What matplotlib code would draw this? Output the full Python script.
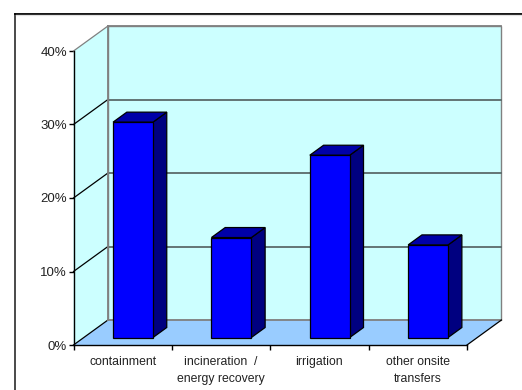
import matplotlib
matplotlib.use('Agg')
import matplotlib.pyplot as plt
from matplotlib.lines import Line2D
from matplotlib.patches import Polygon

plt.rcParams['font.family'] = ['Liberation Sans', 'DejaVu Sans']

categories = ['containment', 'incineration  /\nenergy recovery', 'irrigation', 'other onsite\ntransfers']
shares = [29.3, 13.6, 24.8, 12.6]
y_ticks = [0, 10, 20, 30, 40]

W, H = 522, 390
# oblique offset of the back wall, in category units and percent
DEPTH_X = 0.35
DEPTH_Y = 3.4
BAR_WIDTH = 0.406


def project(x, y, d):
    """Shift a point back into the chart by depth fraction d."""
    return (x + d * DEPTH_X, y + d * DEPTH_Y)


def box(ax, x0, x1, top):
    near, far = 0.3, 0.7
    base = 0
    front = [project(x0, base, near), project(x1, base, near),
             project(x1, top, near), project(x0, top, near)]
    side = [project(x1, base, near), project(x1, base, far),
            project(x1, top, far), project(x1, top, near)]
    lid = [project(x0, top, near), project(x1, top, near),
           project(x1, top, far), project(x0, top, far)]
    for pts, col in ((side, '#000080'), (lid, '#0000a8'), (front, '#0000ff')):
        ax.add_patch(Polygon(pts, closed=True, fc=col, ec='black', lw=0.9,
                             joinstyle='miter', zorder=5, clip_on=False))


fig = plt.figure(figsize=(W / 100, H / 100), dpi=100)
fig.patch.set_facecolor('white')

# outer frame only shows on the top and left
fig.add_artist(Line2D([14.8 / W, 14.8 / W], [0, 1 - 13.5 / H], color='#3a3a3a', lw=1.3))
fig.add_artist(Line2D([14.8 / W, 1], [1 - 13.5 / H, 1 - 13.5 / H], color='black', lw=1.3))
fig.add_artist(Line2D([16 / W, 1], [1 - 15.2 / H, 1 - 15.2 / H], color='#e2e2e2', lw=0.9))

ax = fig.add_axes([73.5 / W, 1 - 345 / H, (467 - 73.5) / W, (345 - 51) / H])
ax.set_xlim(0, 4)
ax.set_ylim(0, 40)
ax.patch.set_alpha(0)

# side wall, back wall and floor
wall = '#ccffff'
ax.add_patch(Polygon([project(0, 0, 0), project(0, 0, 1), project(0, 40, 1), project(0, 40, 0)],
                     closed=True, fc=wall, ec='none', zorder=1, clip_on=False))
ax.add_patch(Polygon([project(0, 0, 1), project(4, 0, 1), project(4, 40, 1), project(0, 40, 1)],
                     closed=True, fc=wall, ec='#808080', lw=1.0, zorder=1, clip_on=False))
ax.add_patch(Polygon([project(0, 0, 0), project(4, 0, 0), project(4, 0, 1), project(0, 0, 1)],
                     closed=True, fc='#99ccff', ec='none', zorder=2, clip_on=False))

# gridlines run along the side wall and across the back wall
for t in y_ticks:
    (x1, y1), (x2, y2) = project(0, t, 0), project(0, t, 1)
    edge = '#808080' if t == 40 else 'black'
    ax.plot([x1, x2], [y1, y2], color=edge, lw=0.9, zorder=3, clip_on=False)
    (x3, y3) = project(4, t, 1)
    ax.plot([x2, x3], [y2, y3], color='#808080' if t in (0, 40) else '#5a6a6a', lw=1.3, zorder=3, clip_on=False)

# floor edge and back corner
ax.plot([4, 4 + DEPTH_X], [0, DEPTH_Y], color='black', lw=0.9, zorder=3, clip_on=False)
ax.plot([DEPTH_X, DEPTH_X], [DEPTH_Y, 40 + DEPTH_Y], color='#808080', lw=1.3, zorder=3, clip_on=False)

for i, v in enumerate(shares):
    box(ax, i + 0.5 - BAR_WIDTH / 2, i + 0.5 + BAR_WIDTH / 2, v)

for s in ('top', 'right'):
    ax.spines[s].set_visible(False)
for s in ('left', 'bottom'):
    ax.spines[s].set_color('black')
    ax.spines[s].set_linewidth(1.0)
    ax.spines[s].set_zorder(4)

ax.set_yticks(y_ticks)
ax.set_yticklabels([f'{t}%' for t in y_ticks], fontsize=9.5, color='#222222')
ax.set_xticks([0, 1, 2, 3, 4])
ax.set_xticklabels([])
ax.tick_params(axis='y', length=3.6, width=1, pad=1)
ax.tick_params(axis='x', length=3.6, width=1)
ax.set_xticks([0.5, 1.5, 2.5, 3.5], labels=categories, minor=True)
ax.tick_params(axis='x', which='minor', length=0, labelsize=8.8, labelcolor='#222222', pad=8)
for lab in ax.get_xticklabels(minor=True):
    lab.set_linespacing(1.55)

fig.savefig('out.png', dpi=100)
